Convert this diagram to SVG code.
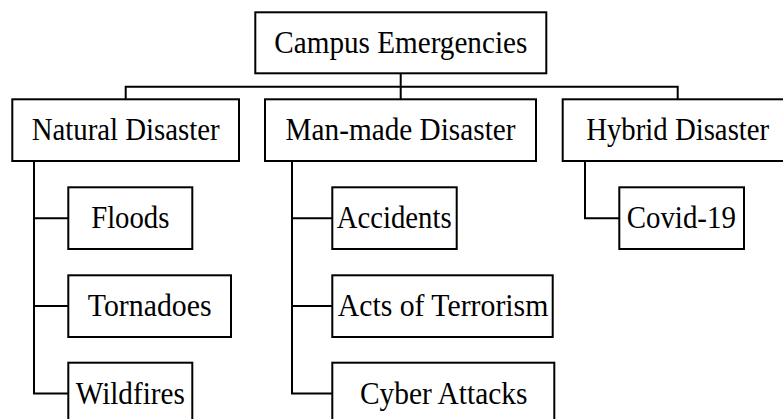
<svg xmlns="http://www.w3.org/2000/svg" width="783" height="419" viewBox="0 0 783 419">
<style>
.box{fill:#fff;stroke:#000;stroke-width:2}
.lbl{font-family:"Liberation Serif","Times New Roman",serif;font-size:31.5px;fill:#000;text-anchor:middle}
.conn{fill:none;stroke:#000;stroke-width:2}
</style>
<rect width="783" height="419" fill="#fff"/>
<g id="connectors">
<path class="conn" d="M400.7 73.3V86.7M125.7 99.3V86.7H677.7V99.3M400.7 86.7V99.3"/>
<path class="conn" d="M34 161V393.5H68.3M34 218.3H68.3M34 306H68.3"/>
<path class="conn" d="M292 161V393.5H332.3M292 218.3H332.3M292 306H332.3"/>
<path class="conn" d="M585 161V218.3H619.3"/>
</g>
<g id="campus"><rect class="box" x="255.3" y="12.3" width="291" height="61"/><text class="lbl" x="400.8" y="52.7" textLength="253" lengthAdjust="spacingAndGlyphs">Campus Emergencies</text></g>
<g id="natural"><rect class="box" x="12.3" y="99.3" width="226.7" height="61.7"/><text class="lbl" x="125.7" y="140.2" textLength="188" lengthAdjust="spacingAndGlyphs">Natural Disaster</text></g>
<g id="manmade"><rect class="box" x="265" y="99.3" width="271" height="61.7"/><text class="lbl" x="400.5" y="140.2" textLength="230" lengthAdjust="spacingAndGlyphs">Man-made Disaster</text></g>
<g id="hybrid"><rect class="box" x="562.7" y="99.3" width="230" height="61.7"/><text class="lbl" x="677.7" y="140.2" textLength="183" lengthAdjust="spacingAndGlyphs">Hybrid Disaster</text></g>
<g id="floods"><rect class="box" x="68.3" y="187.3" width="124" height="61.7"/><text class="lbl" x="130.3" y="228.3" textLength="78.3" lengthAdjust="spacingAndGlyphs">Floods</text></g>
<g id="tornadoes"><rect class="box" x="68.3" y="275.3" width="162.7" height="61.7"/><text class="lbl" x="149.7" y="316.3" textLength="123.7" lengthAdjust="spacingAndGlyphs">Tornadoes</text></g>
<g id="wildfires"><rect class="box" x="68.3" y="362.7" width="124" height="61.7"/><text class="lbl" x="130.3" y="403.7" textLength="109" lengthAdjust="spacingAndGlyphs">Wildfires</text></g>
<g id="accidents"><rect class="box" x="332.3" y="187.3" width="124.4" height="61.7"/><text class="lbl" x="394.2" y="228.3" textLength="115" lengthAdjust="spacingAndGlyphs">Accidents</text></g>
<g id="terrorism"><rect class="box" x="332.3" y="275.3" width="220.4" height="61.7"/><text class="lbl" x="443" y="316.3" textLength="210.6" lengthAdjust="spacingAndGlyphs">Acts of Terrorism</text></g>
<g id="cyber"><rect class="box" x="332.3" y="362.7" width="222" height="61.7"/><text class="lbl" x="443.7" y="403.7" textLength="167.5" lengthAdjust="spacingAndGlyphs">Cyber Attacks</text></g>
<g id="covid"><rect class="box" x="619.3" y="187.3" width="124.7" height="61.7"/><text class="lbl" x="681.3" y="228.3" textLength="109.3" lengthAdjust="spacingAndGlyphs">Covid-19</text></g>
</svg>
